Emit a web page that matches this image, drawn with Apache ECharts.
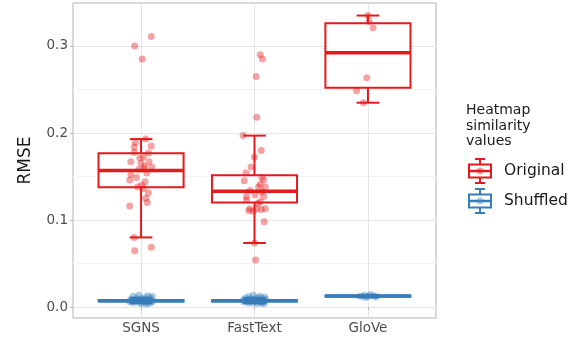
<!DOCTYPE html>
<html><head><meta charset="utf-8">
<script src="https://cdn.jsdelivr.net/npm/echarts@6/dist/echarts.min.js"></script>
<style>html,body{margin:0;padding:0;background:#fff}#c{width:577px;height:347px}</style>
</head><body><div id="c"></div>
<script>
const categories = ['SGNS', 'FastText', 'GloVe'];
const yTicks = [0, 0.1, 0.2, 0.3];
const yLabels = ['0.0', '0.1', '0.2', '0.3'];
const groups = ['Original', 'Shuffled'];
const colors = ['#E41A1C', '#377EB8'];

// box stats: [lowWhisker, Q1, median, Q3, highWhisker]
const originalStats = [
  [0.080, 0.1376, 0.157, 0.1766, 0.193],
  [0.0736, 0.120, 0.133, 0.1514, 0.197],
  [0.2348, 0.252, 0.2923, 0.326, 0.335]
];
const shuffledStats = [
  [0.0045, 0.0064, 0.0073, 0.0082, 0.0105],
  [0.0045, 0.0064, 0.0073, 0.0082, 0.0105],
  [0.0110, 0.0118, 0.0126, 0.0134, 0.0140]
];

// point values per category and the jitter (in category units)
const sgnsOriginal = [0.311,0.300,0.285,0.193,0.189,0.185,0.184,0.178,0.177,0.171,0.167,0.167,0.162,0.161,0.159,0.154,0.152,0.146,0.144,0.140,0.136,0.131,0.125,0.120,0.116,0.080,0.0686,0.0648,0.158,0.149,0.138,0.165,0.172];
const sgnsOriginalJit = [0.09,-0.056,0.01,0.04,-0.05,0.09,-0.06,-0.06,0.065,-0.01,-0.09,0.07,0.03,0.095,0.03,0.05,-0.09,-0.10,0.035,0.005,0.02,0.065,0.04,0.055,-0.10,-0.06,0.09,-0.056,-0.02,-0.04,-0.03,0.0,0.02];
const fastOriginal = [0.290,0.285,0.265,0.218,0.197,0.180,0.172,0.161,0.154,0.149,0.145,0.146,0.141,0.138,0.138,0.134,0.1325,0.129,0.127,0.127,0.123,0.121,0.119,0.113,0.113,0.113,0.111,0.110,0.112,0.098,0.0736,0.054];
const fastOriginalJit = [0.05,0.07,0.015,0.02,-0.10,0.06,0.0,-0.03,-0.075,0.065,-0.09,0.08,0.05,0.035,0.095,-0.04,0.065,0.005,-0.07,0.08,-0.07,0.05,0.03,-0.04,0.02,0.095,-0.05,-0.01,0.06,0.085,0.0,0.01];
const gloveOriginal = [0.335,0.328,0.321,0.2636,0.2486,0.2348];
const gloveOriginalJit = [0.0,0.01,0.045,-0.01,-0.10,-0.04];

const sgnsShuffled = [0.0135,0.013,0.012,0.0125,0.011,0.0105,0.010,0.0095,0.009,0.009,0.0085,0.0082,0.008,0.0078,0.0075,0.0073,0.007,0.0068,0.0065,0.0062,0.006,0.0058,0.0055,0.005,0.0048,0.0045,0.004,0.0035,0.0085,0.0072];
const sgnsShuffledJit = [-0.02,0.06,0.10,-0.07,0.03,0.08,-0.04,0.0,-0.09,0.05,0.02,-0.06,0.09,-0.03,0.07,-0.08,0.01,0.04,-0.05,0.1,-0.1,0.06,-0.02,0.03,-0.07,0.08,0.0,0.05,-0.04,0.02];
const fastShuffled = [0.0135,0.0125,0.012,0.0115,0.011,0.0105,0.010,0.0095,0.009,0.0088,0.0085,0.0082,0.008,0.0078,0.0075,0.0073,0.007,0.0068,0.0065,0.0062,0.006,0.0058,0.0055,0.005,0.0048,0.0045,0.004,0.0038,0.0086,0.0071];
const fastShuffledJit = [-0.01,0.05,-0.05,0.09,0.02,-0.08,0.06,-0.03,0.1,0.0,-0.06,0.04,-0.1,0.08,-0.02,0.03,0.07,-0.07,0.01,-0.04,0.09,-0.09,0.05,-0.01,0.06,-0.05,0.02,0.08,-0.03,0.04];
const gloveShuffled = [0.0145,0.0135,0.013,0.0125,0.012,0.0115,0.011];
const gloveShuffledJit = [0.02,-0.03,0.05,-0.06,0.0,0.07,-0.02];

const boxData = (stats) => stats.map((s, i) => [i + 1].concat(s));
const pts = (vals, jit, cat) => vals.map((v, i) => [cat + jit[i], v]);

function renderBox(color) {
  return function (params, api) {
    const x = api.value(0);
    const lo = api.value(1), q1 = api.value(2), md = api.value(3), q3 = api.value(4), hi = api.value(5);
    const hw = 0.375, cw = 0.1;
    const pTL = api.coord([x - hw, q3]), pBR = api.coord([x + hw, q1]);
    const pm1 = api.coord([x - hw, md]), pm2 = api.coord([x + hw, md]);
    const pLo = api.coord([x, lo]), pHi = api.coord([x, hi]);
    const pQ1 = api.coord([x, q1]), pQ3 = api.coord([x, q3]);
    const cL = api.coord([x - cw, 0])[0], cR = api.coord([x + cw, 0])[0];
    const ls = { stroke: color, lineWidth: 2, fill: null };
    return { type: 'group', children: [
      { type: 'line', shape: { x1: pLo[0], y1: pLo[1], x2: pQ1[0], y2: pQ1[1] }, style: ls },
      { type: 'line', shape: { x1: pQ3[0], y1: pQ3[1], x2: pHi[0], y2: pHi[1] }, style: ls },
      { type: 'line', shape: { x1: cL, y1: pLo[1], x2: cR, y2: pLo[1] }, style: ls },
      { type: 'line', shape: { x1: cL, y1: pHi[1], x2: cR, y2: pHi[1] }, style: ls },
      { type: 'rect', shape: { x: pTL[0], y: pTL[1], width: pBR[0] - pTL[0], height: pBR[1] - pTL[1] }, style: { stroke: color, lineWidth: 2, fill: '#fff' } },
      { type: 'line', shape: { x1: pm1[0], y1: pm1[1], x2: pm2[0], y2: pm2[1] }, style: { stroke: color, lineWidth: 3.5 } }
    ]};
  };
}

const chart = echarts.init(document.getElementById('c'), null, { renderer: 'canvas' });
const textCol = '#4d4d4d';
const legendKey = (cy, color) => ({
  type: 'group', children: [
    { type: 'line', shape: { x1: 480, y1: cy - 12, x2: 480, y2: cy - 6.5 }, style: { stroke: color, lineWidth: 2 } },
    { type: 'line', shape: { x1: 480, y1: cy + 6.5, x2: 480, y2: cy + 12 }, style: { stroke: color, lineWidth: 2 } },
    { type: 'line', shape: { x1: 475, y1: cy - 12, x2: 485, y2: cy - 12 }, style: { stroke: color, lineWidth: 2 } },
    { type: 'line', shape: { x1: 475, y1: cy + 12, x2: 485, y2: cy + 12 }, style: { stroke: color, lineWidth: 2 } },
    { type: 'rect', shape: { x: 469, y: cy - 6.5, width: 22, height: 13 }, style: { stroke: color, lineWidth: 2, fill: '#fff' } },
    { type: 'line', shape: { x1: 469, y1: cy, x2: 491, y2: cy }, style: { stroke: color, lineWidth: 2.5 } },
    { type: 'circle', shape: { cx: 480, cy: cy, r: 3.5 }, style: { fill: color, opacity: 0.4 } }
  ]
});

chart.setOption({
  animation: false,
  grid: { left: 73, right: 141, top: 3, bottom: 29, show: true, borderColor: '#b3b3b3', borderWidth: 1, backgroundColor: 'transparent' },
  xAxis: {
    type: 'value', min: 0.4, max: 3.6,
    axisLine: { show: false },
    axisTick: { show: true, length: 3, lineStyle: { color: '#b3b3b3' }, customValues: [1, 2, 3] },
    axisLabel: { customValues: [1, 2, 3], formatter: v => categories[Math.round(v) - 1] || '', color: textCol, fontSize: 13.5, fontFamily: 'DejaVu Sans', margin: 3 },
    splitLine: { show: true, lineStyle: { color: '#e5e5e5', width: 1 } }
  },
  yAxis: {
    type: 'value', min: -0.0126, max: 0.3494,
    name: 'RMSE', nameLocation: 'middle', nameGap: 39, nameRotate: 90,
    nameTextStyle: { color: '#1a1a1a', fontSize: 17, fontFamily: 'DejaVu Sans' },
    axisLine: { show: false },
    axisTick: { show: true, length: 3, lineStyle: { color: '#b3b3b3' }, customValues: yTicks },
    axisLabel: { customValues: yTicks, formatter: v => yLabels[yTicks.findIndex(t => Math.abs(t - v) < 1e-9)] || '', color: textCol, fontSize: 13.5, fontFamily: 'DejaVu Sans', margin: 5 },
    splitLine: { show: true, lineStyle: { color: '#e5e5e5', width: 1 } },
    minorTick: { show: false, splitNumber: 2 },
    minorSplitLine: { show: true, lineStyle: { color: '#f2f2f2', width: 1 } }
  },
  series: [
    { type: 'custom', name: 'Original', renderItem: renderBox(colors[0]), data: boxData(originalStats), z: 2, encode: { x: 0, y: [1, 2, 3, 4, 5] } },
    { type: 'custom', name: 'Shuffled', renderItem: renderBox(colors[1]), data: boxData(shuffledStats), z: 2, encode: { x: 0, y: [1, 2, 3, 4, 5] } },
    { type: 'scatter', symbolSize: 7, z: 3, itemStyle: { color: colors[0], opacity: 0.4 },
      data: pts(sgnsOriginal, sgnsOriginalJit, 1).concat(pts(fastOriginal, fastOriginalJit, 2), pts(gloveOriginal, gloveOriginalJit, 3)) },
    { type: 'scatter', symbolSize: 7, z: 3, itemStyle: { color: colors[1], opacity: 0.4 },
      data: pts(sgnsShuffled, sgnsShuffledJit, 1).concat(pts(fastShuffled, fastShuffledJit, 2), pts(gloveShuffled, gloveShuffledJit, 3)) }
  ],
  graphic: [
    { type: 'text', x: 466, y: 103, style: { text: 'Heatmap\nsimilarity\nvalues', fill: '#1a1a1a', fontSize: 14, fontFamily: 'DejaVu Sans', lineHeight: 15.5 } },
    legendKey(171, colors[0]),
    legendKey(201, colors[1]),
    { type: 'text', x: 504, y: 171, style: { text: groups[0], fill: '#1a1a1a', fontSize: 15.5, fontFamily: 'DejaVu Sans', verticalAlign: 'middle' } },
    { type: 'text', x: 504, y: 201, style: { text: groups[1], fill: '#1a1a1a', fontSize: 15.5, fontFamily: 'DejaVu Sans', verticalAlign: 'middle' } }
  ]
});
</script></body></html>
